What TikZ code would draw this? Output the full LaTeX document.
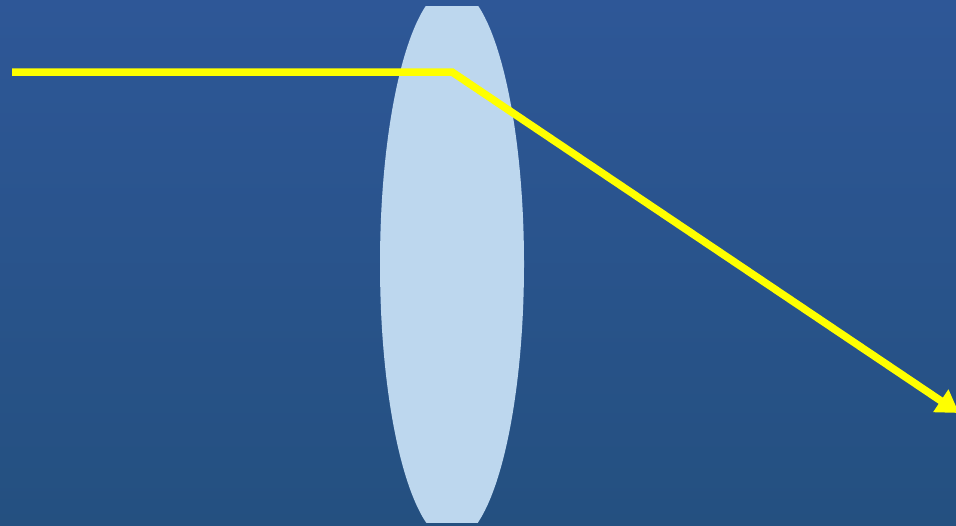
\documentclass[tikz,border=0pt]{standalone}
\usetikzlibrary{arrows.meta}
\definecolor{bgtop}{RGB}{46,87,151}
\definecolor{bgbot}{RGB}{36,80,128}
\definecolor{lens}{RGB}{189,215,238}
\definecolor{ray}{RGB}{255,255,0}
\begin{document}
\begin{tikzpicture}[x=1pt,y=-1pt,
  raystyle/.style={draw=ray,line width=7.5pt,line join=miter},
  arrowtip/.style={-{Triangle[length=22pt,width=26pt]}}]
\useasboundingbox (0,0) rectangle (956,525);
\shade[top color=bgtop,bottom color=bgbot] (0,0) rectangle (956,525);
\begin{scope}
  \clip (300,6) rectangle (600,522);
  \fill[lens] (452,264) ellipse [x radius=72, y radius=277];
\end{scope}
\coordinate (start) at (12,72);
\coordinate (bend) at (452,72);
\coordinate (tip) at (959,413);
\draw[raystyle,arrowtip] (start) -- (bend) -- (tip);
\end{tikzpicture}
\end{document}
